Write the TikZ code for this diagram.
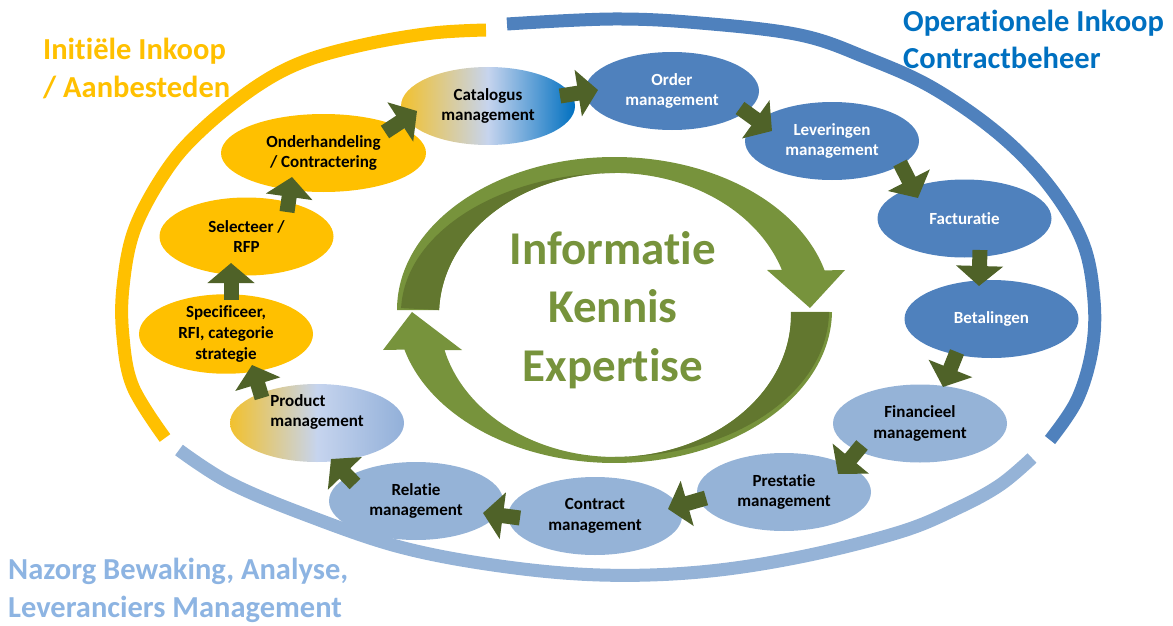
\documentclass[tikz,border=0pt]{standalone}
\usepackage{fontspec}
\setmainfont{Carlito}[Ligatures=NoCommon]
\usetikzlibrary{calc,shapes.geometric,arrows.meta}
\definecolor{geel}{HTML}{FFC000}
\definecolor{blauw}{HTML}{4F81BD}
\definecolor{lichtblauw}{HTML}{95B3D7}
\definecolor{kopblauw}{HTML}{0070C0}
\definecolor{koplicht}{HTML}{8DB4E2}
\definecolor{pijlgroen}{HTML}{4F6228}
\definecolor{ringgroen}{HTML}{77933C}
\definecolor{ringdonker}{HTML}{62772F}
\definecolor{overgeel}{HTML}{F2C12E}
\definecolor{overlicht}{HTML}{C6D4EE}
\definecolor{catblauw}{HTML}{0070C0}
\definecolor{prodblauw}{HTML}{92B0D9}
\tikzset{
  fase/.style={
    ellipse,
    minimum width=174pt,
    minimum height=78pt,
    inner sep=0pt,
    align=center,
    text=black,
    font=\fontsize{17}{20.7}\selectfont\bfseries
  },
  initieel/.style={fase, fill=geel},
  operationeel/.style={fase, fill=blauw, text=white},
  nazorg/.style={fase, fill=lichtblauw},
  stap/.style={draw=pijlgroen, line width=15pt,
    -{Triangle[length=20pt, width=46pt]}},
  kop/.style={anchor=base west, align=left, inner sep=0pt,
    font=\fontsize{30.5}{37.5}\selectfont\bfseries},
  boog/.style={line width=13pt, line cap=butt},
  ringtekst/.style={align=center, inner sep=0pt, text=ringgroen,
    font=\fontsize{47}{58.5}\selectfont\bfseries}
}
\begin{document}
\begin{tikzpicture}[x=1pt, y=-1pt]
  \useasboundingbox (0,0) rectangle (1173,626);
  % buitenste bogen
  \draw[boog, geel] plot[smooth, tension=.6] coordinates {(165,438) (133,387)
    (123,337) (123,287) (135,228) (168,168) (205,127) (257,86) (305,61)
    (367,44) (433,33) (486,30)};
  \draw[boog, blauw] plot[smooth, tension=.6] coordinates {(507,24) (613,19)
    (700,23) (800,35) (867,58) (933,88) (1000,135) (1050,187) (1083,243)
    (1094,300) (1092,350) (1077,400) (1050,440)};
  \draw[boog, lichtblauw] plot[smooth, tension=.6] coordinates {(179,450)
    (230,483) (306,515) (400,547) (500,566) (600,575) (700,572) (800,557)
    (900,532) (958,508) (1000,485) (1032,458)};
  % kringloop in het midden
  \fill[ringgroen] (397,310) arc[start angle=180, end angle=345,
    x radius=217.5, y radius=153] -- (845,270) -- (810,308) -- (767,270)
    -- (781.9,269.9) arc[start angle=341.5, end angle=182, x radius=176,
    y radius=142] -- cycle;
  \fill[ringdonker] (401.1,308.1) arc[start angle=182, end angle=270,
    x radius=214, y radius=140] -- (615,173) arc[start angle=270,
    end angle=182, x radius=176, y radius=142] -- cycle;
  \fill[ringgroen] (832,312) arc[start angle=0.75, end angle=165,
    x radius=217.5, y radius=153] -- (383,350) -- (412,312) -- (462,350)
    -- (444.5,350) arc[start angle=165.7, end angle=-1.2, x radius=176,
    y radius=142] -- cycle;
  \fill[ringdonker] (829,312) arc[start angle=0.4, end angle=90,
    x radius=214, y radius=146] -- (615,457) arc[start angle=90,
    end angle=-1.2, x radius=176, y radius=142] -- cycle;
  \node[ringtekst] (kennis) at (613,310) {Informatie\\Kennis\\Expertise};
  % koppen
  \node[kop, text=geel] (kopinit) at (43,97) {Initiële Inkoop\\/ Aanbesteden};
  \node[kop, text=kopblauw] (kopoper) at (903,69)
    {Operationele Inkoop\\Contractbeheer};
  \node[kop, text=koplicht] (kopnazorg) at (8,617)
    {Nazorg Bewaking, Analyse,\\Leveranciers Management};
  % stappen
  \node[fase, left color=overgeel, right color=catblauw,
    middle color=overlicht] (cat) at (488,106) {Catalogus\\management};
  \node[operationeel] (ord) at (672,91) {Order\\management};
  \node[operationeel] (lev) at (832,141) {Leveringen\\management};
  \node[operationeel] (fac) at (964.5,218.5) {Facturatie};
  \node[operationeel] (bet) at (991.5,319) {Betalingen};
  \node[nazorg] (fin) at (920,423.5) {Financieel\\management};
  \node[nazorg] (pres) at (784,492) {Prestatie\\management};
  \node[nazorg] (contr) at (595,516) {Contract\\management};
  \node[nazorg] (rel) at (416,501) {Relatie\\management};
  \node[fase, left color=overgeel, right color=prodblauw,
    middle color=overlicht,
    label={[fase, align=left, minimum width=0pt, minimum height=0pt,
      yshift=11pt]center:{Product\\management}}] (prod) at (317,423) {};
  \node[initieel] (spec) at (226,334) {Specificeer,\\RFI, categorie\\strategie};
  \node[initieel] (sel) at (246.5,236.5) {Selecteer /\\RFP};
  \node[initieel, minimum width=205pt] (ond) at (323.5,153)
    {Onderhandeling\\/ Contractering};
  % pijlen tussen de stappen
  \draw[stap] ($(prod)+(-55,-25)$) -- ($(spec)+(26,31)$);
  \draw[stap] ($(spec)+(5,-34)$) -- ($(sel)+(-15.5,26.5)$);
  \draw[stap] ($(sel)+(40.5,-24.5)$) -- ($(ond)+(-31.5,24)$);
  \draw[stap] ($(ond)+(61.5,-21)$) -- ($(cat)+(-71,5)$);
  \draw[stap] ($(cat)+(72,-10)$) -- ($(ord)+(-74,-1)$);
  \draw[stap] ($(ord)+(68,17)$) -- ($(lev)+(-60,-10)$);
  \draw[stap] ($(lev)+(68,22)$) -- ($(fac)+(-46.5,-20.5)$);
  \draw[stap] ($(fac)+(15.5,31.5)$) -- ($(bet)+(-12.5,-33)$);
  \draw[stap] ($(bet)+(-34.5,33)$) -- ($(fin)+(23,-36.5)$);
  \draw[stap] ($(fin)+(-58,21.5)$) -- ($(pres)+(54,-18)$);
  \draw[stap] ($(pres)+(-78,6)$) -- ($(contr)+(73,-7)$);
  \draw[stap] ($(contr)+(-75,2)$) -- ($(rel)+(67,12)$);
  \draw[stap] ($(rel)+(-61,-17)$) -- ($(prod)+(14,36)$);
\end{tikzpicture}
\end{document}
